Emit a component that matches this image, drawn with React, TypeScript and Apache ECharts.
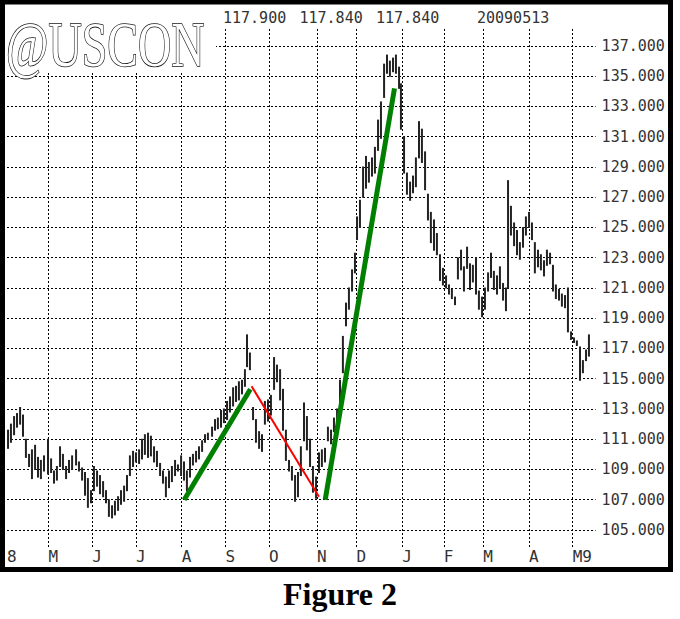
import { useEffect, useRef } from 'react';
import * as echarts from 'echarts';

// Trading-day index of the first session of each month (Apr 2008 .. May 2009)
const monthTicks = [0, 20, 41, 62, 84, 105, 126, 149, 168, 190, 210, 229, 251, 272];
const monthLabels = ['8', 'M', 'J', 'J', 'A', 'S', 'O', 'N', 'D', 'J', 'F', 'M', 'A', 'M9'];
const priceTicks = [105, 107, 109, 111, 113, 115, 117, 119, 121, 123, 125, 127, 129, 131, 133, 135, 137];

// Sampled bars: trading-day position, low, high
const days = [
  0.5, 1.9, 3.4, 4.8, 6.3, 7.7, 9.1, 10.6, 12.0, 13.5, 14.9, 16.3, 17.8, 19.7, 21.2, 22.6, 24.0, 25.5, 26.9, 28.4,
  29.8, 31.3, 33.2, 34.6, 36.1, 37.5, 38.9, 40.4, 41.8, 43.3, 44.7, 46.2, 47.6, 49.0, 50.5, 51.9, 53.4, 54.8, 56.3, 57.7,
  59.1, 60.6, 62.0, 63.5, 64.9, 66.3, 67.8, 69.2, 70.7, 72.1, 73.6, 75.0, 76.4, 77.9, 79.3, 80.8, 82.2, 83.7, 85.1, 86.5,
  88.0, 89.4, 90.9, 92.3, 93.8, 95.2, 96.6, 98.6, 100.0, 101.4, 102.9, 104.3, 105.8, 107.2, 108.7, 110.1, 111.5, 113.0, 114.4, 115.4,
  116.8, 118.3, 119.7, 121.2, 122.6, 124.0, 125.5, 126.9, 128.4, 129.8, 131.3, 132.7, 134.1, 135.6, 137.0, 138.5, 139.9, 141.3, 142.8, 144.2,
  145.7, 147.1, 148.6, 150.0, 151.4, 152.9, 154.3, 155.8, 157.2, 158.7, 160.1, 161.5, 163.0, 164.4, 165.9, 167.3, 168.3, 169.7, 171.2, 172.6,
  174.0, 175.5, 176.9, 178.4, 179.8, 181.3, 182.7, 184.1, 185.6, 187.0, 188.5, 189.4, 190.9, 192.3, 193.8, 195.2, 196.6, 198.1, 199.5, 201.0,
  202.4, 203.8, 205.3, 206.7, 208.2, 209.6, 211.1, 212.5, 213.9, 215.4, 216.8, 218.3, 219.7, 221.2, 222.6, 224.0, 225.5, 226.9, 228.4, 229.8,
  231.3, 232.7, 234.1, 235.6, 237.0, 238.5, 239.9, 240.9, 242.3, 243.8, 245.2, 246.6, 248.1, 249.5, 251.0, 252.4, 253.8, 255.3, 256.7, 258.2,
  259.6, 261.1, 262.5, 263.9, 265.4, 266.8, 268.3, 269.7, 271.2, 272.6, 274.0, 275.5, 276.9, 278.4, 279.8,
];
const lows = [
  110.4, 110.8, 111.3, 111.8, 112.0, 111.2, 109.8, 109.2, 108.4, 109.0, 108.5, 108.4, 108.9, 108.7, 108.8, 108.1, 108.3, 109.2, 109.0, 108.4,
  108.8, 109.0, 109.3, 108.9, 108.3, 107.3, 106.5, 106.8, 107.6, 107.9, 107.4, 107.2, 106.8, 105.9, 105.8, 106.0, 106.3, 106.7, 106.9, 107.6,
  108.6, 109.2, 109.5, 109.4, 109.7, 110.0, 109.8, 109.9, 109.5, 109.2, 108.6, 108.1, 107.2, 107.8, 108.2, 108.6, 108.9, 108.6, 108.3, 107.6,
  108.5, 109.3, 109.5, 109.7, 110.2, 110.8, 111.0, 111.2, 111.6, 111.7, 111.8, 112.1, 112.3, 112.8, 113.2, 113.5, 113.6, 114.0, 114.5, 115.8,
  115.6, 112.3, 110.8, 110.4, 110.2, 112.0, 112.2, 112.6, 114.3, 114.8, 113.6, 111.6, 109.6, 108.9, 108.3, 106.9, 107.2, 108.6, 110.9, 110.3,
  109.2, 107.5, 107.1, 108.8, 109.2, 109.5, 110.9, 110.7, 111.5, 112.0, 112.8, 115.4, 118.5, 119.6, 120.8, 122.0, 124.2, 125.0, 127.0, 127.6,
  128.0, 128.4, 128.6, 130.1, 130.9, 133.6, 135.2, 135.0, 135.3, 135.2, 134.2, 131.5, 128.6, 127.2, 126.8, 127.3, 127.7, 129.6, 129.3, 127.5,
  125.5, 124.0, 123.5, 123.2, 121.5, 121.2, 121.0, 120.6, 120.3, 119.9, 121.6, 122.2, 120.8, 122.3, 120.9, 121.4, 120.6, 119.6, 119.1, 119.6,
  120.8, 121.7, 120.9, 120.6, 121.0, 120.2, 119.5, 121.0, 124.5, 123.8, 123.2, 122.9, 123.7, 124.5, 125.0, 124.2, 122.0, 122.4, 122.2, 121.8,
  122.5, 122.6, 120.8, 120.3, 120.2, 119.8, 119.7, 118.1, 117.6, 117.4, 117.2, 114.9, 115.4, 116.2, 116.5,
];
const highs = [
  111.6, 112.0, 112.5, 112.7, 113.1, 112.6, 111.0, 110.0, 110.3, 110.6, 109.8, 109.6, 109.9, 111.0, 109.7, 108.9, 109.2, 110.5, 110.0, 109.2,
  109.6, 109.9, 110.3, 109.5, 109.1, 108.8, 108.4, 107.6, 109.2, 108.9, 108.6, 108.2, 107.6, 107.0, 106.6, 106.9, 107.2, 107.6, 107.9, 108.6,
  109.9, 110.2, 110.1, 110.3, 111.0, 111.3, 111.4, 111.2, 110.5, 110.2, 109.4, 108.9, 108.5, 108.9, 109.2, 109.6, 109.3, 109.9, 109.5, 108.9,
  109.8, 110.0, 110.2, 110.5, 110.9, 111.3, 111.4, 111.8, 112.3, 112.4, 112.9, 113.0, 113.5, 113.8, 114.4, 114.5, 114.8, 114.9, 115.6, 117.9,
  116.7, 113.1, 112.3, 111.5, 111.3, 113.5, 113.6, 113.9, 116.4, 115.9, 115.6, 114.3, 111.6, 109.6, 109.2, 108.6, 108.8, 110.5, 113.4, 112.5,
  111.0, 109.2, 108.5, 110.1, 110.3, 110.4, 111.8, 111.6, 112.4, 113.0, 114.9, 117.8, 120.0, 121.0, 122.2, 123.3, 125.7, 126.8, 129.0, 129.7,
  129.3, 129.6, 130.3, 132.1, 133.3, 135.8, 136.4, 136.0, 136.2, 136.4, 135.6, 134.5, 131.0, 128.6, 128.0, 128.4, 129.6, 132.0, 131.5, 130.0,
  127.2, 126.0, 125.5, 124.6, 123.2, 122.3, 121.8, 121.2, 120.9, 120.4, 123.0, 123.5, 122.4, 123.7, 122.6, 122.5, 123.0, 120.8, 120.4, 121.0,
  122.0, 123.3, 122.1, 121.8, 122.4, 121.3, 121.0, 128.1, 126.4, 125.3, 124.8, 124.0, 125.0, 125.7, 126.0, 125.3, 124.0, 123.5, 123.2, 122.8,
  123.5, 123.3, 122.5, 121.2, 120.9, 120.6, 120.5, 121.0, 118.1, 117.7, 117.5, 117.1, 116.2, 116.9, 117.9,
];

// Hand-drawn trend lines: [trading day, price]
const trendUp1 = [[85.2, 107.0], [117.0, 114.3]];
const trendDown = [[117.6, 114.5], [150.0, 107.2]];
const trendUp2 = [[153.0, 107.0], [186.3, 134.2]];

const headerQuotes = ['117.900', '117.840', '117.840'];
const headerDate = '20090513';
const symbolName = '@USCON';
const caption = 'Figure 2';

const MONO = '"DejaVu Sans Mono", monospace';

export default function App() {
  const ref = useRef<HTMLDivElement>(null);
  useEffect(() => {
    if (!ref.current) return;
    const chart = echarts.init(ref.current, null, { renderer: 'svg' });
    const bars = days.map((d, i) => [d, lows[i], highs[i]]);
    const gridMarks = [
      ...priceTicks.map((v) => ({ yAxis: v })),
      ...monthTicks.slice(1).map((t) => ({ xAxis: t })),
    ];
    chart.setOption({
      animation: false,
      backgroundColor: '#fff',
      grid: { left: 7, right: 84.4, top: 28, bottom: 72, containLabel: false },
      xAxis: {
        type: 'value',
        min: 0,
        max: 283,
        axisLine: { show: false },
        axisTick: { show: false },
        splitLine: { show: false },
        axisLabel: {
          customValues: monthTicks,
          formatter: (v: number) => monthLabels[monthTicks.indexOf(v)] ?? '',
          align: 'left',
          margin: 1,
          fontFamily: MONO,
          fontSize: 16,
          color: '#333',
        },
      },
      yAxis: {
        type: 'value',
        position: 'right',
        min: 103.876,
        max: 138.19,
        axisLine: { show: false },
        axisTick: { show: false },
        splitLine: { show: false },
        axisLabel: {
          customValues: priceTicks,
          formatter: (v: number) => v.toFixed(3),
          margin: 6,
          fontFamily: MONO,
          fontSize: 15,
          color: '#333',
        },
      },
      series: [
        {
          type: 'custom',
          z: 3,
          data: bars,
          encode: { x: 0, y: [1, 2] },
          renderItem: (params: any, api: any) => {
            const x = api.value(0);
            const lo = api.coord([x, api.value(1)]);
            const hi = api.coord([x, api.value(2)]);
            return {
              type: 'line',
              shape: { x1: lo[0], y1: lo[1] + 0.5, x2: hi[0], y2: hi[1] - 0.5 },
              style: { stroke: '#222', lineWidth: 2 },
            };
          },
        },
        {
          type: 'line',
          z: 5,
          data: trendUp1,
          symbol: 'none',
          lineStyle: { color: '#008000', width: 5 },
          markLine: {
            silent: true,
            z: 1,
            symbol: 'none',
            label: { show: false },
            lineStyle: { color: '#000', width: 1, type: [2, 2] },
            data: gridMarks,
          },
        },
        {
          type: 'line',
          z: 5,
          data: trendDown,
          symbol: 'none',
          lineStyle: { color: '#ff0000', width: 2 },
        },
        {
          type: 'line',
          z: 5,
          data: trendUp2,
          symbol: 'none',
          lineStyle: { color: '#008000', width: 5 },
        },
      ],
      graphic: [
        { type: 'rect', z: 50, shape: { x: 4, y: 5, width: 212, height: 66 }, style: { fill: '#fff' } },
        {
          type: 'text',
          z: 51,
          x: 6,
          y: 44,
          scaleX: 0.72,
          style: {
            text: symbolName,
            font: '64px "Liberation Serif", serif',
            fill: '#fff',
            stroke: '#111',
            lineWidth: 1.6,
            verticalAlign: 'middle',
          },
        },
        ...headerQuotes.map((q, i) => ({
          type: 'text',
          z: 51,
          x: 223 + i * 76.5,
          y: 18,
          style: { text: q, font: `15px ${MONO}`, fill: '#333', verticalAlign: 'middle' },
        })),
        {
          type: 'text',
          z: 51,
          x: 477,
          y: 18,
          style: { text: headerDate, font: `15px ${MONO}`, fill: '#333', verticalAlign: 'middle' },
        },
        {
          type: 'rect',
          z: 60,
          shape: { x: 2.5, y: 2, width: 668, height: 567.5 },
          style: { fill: 'none', stroke: '#000', lineWidth: 5 },
        },
        {
          type: 'text',
          z: 60,
          x: 340,
          y: 594,
          style: {
            text: caption,
            font: 'bold 32px "Liberation Serif", serif',
            fill: '#000',
            align: 'center',
            verticalAlign: 'middle',
          },
        },
      ],
    });
    return () => chart.dispose();
  }, []);
  return (
    <div
      ref={ref}
      style={{ position: 'fixed', left: 0, top: 0, width: 680, height: 619, background: '#fff' }}
    />
  );
}
